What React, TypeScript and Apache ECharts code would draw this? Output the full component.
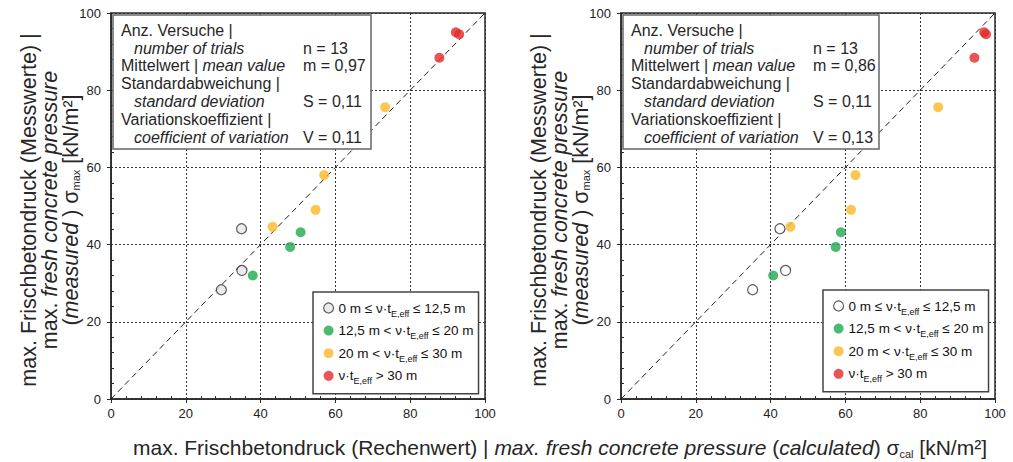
import React, { useEffect, useRef } from 'react';
import * as echarts from 'echarts';

// ---- data ----
// measured max. fresh concrete pressure (same tests in both panels)
const measuredG0 = [28.3, 33.3, 44.1];
const measuredG1 = [32.0, 39.4, 43.2];
const measuredG2 = [44.6, 49.0, 58.0, 75.6];
const measuredG3 = [88.4, 95.0, 94.5];
// calculated values, left panel
const calcLeftG0 = [29.5, 35.0, 34.9];
const calcLeftG1 = [37.9, 47.9, 50.7];
const calcLeftG2 = [43.2, 54.7, 57.0, 73.3];
const calcLeftG3 = [87.8, 92.2, 93.1];
// calculated values, right panel
const calcRightG0 = [35.2, 44.0, 42.5];
const calcRightG1 = [40.7, 57.4, 58.8];
const calcRightG2 = [45.3, 61.5, 62.7, 84.8];
const calcRightG3 = [94.5, 97.1, 97.6];

const legendPre = ['0 m ≤ ν·t', '12,5 m < ν·t', '20 m < ν·t', 'ν·t'];
const legendSub = 'E,eff';
const legendPost = [' ≤ 12,5 m', ' ≤ 20 m', ' ≤ 30 m', ' > 30 m'];

const statLabels = [
  ['Anz. Versuche |', 'number of trials'],
  ['Mittelwert | ', 'mean value'],
  ['Standardabweichung |', 'standard deviation'],
  ['Variationskoeffizient |', 'coefficient of variation'],
];
const statsLeft = ['n = 13', 'm = 0,97', 'S = 0,11', 'V = 0,11'];
const statsRight = ['n = 13', 'm = 0,86', 'S = 0,11', 'V = 0,13'];

const axisTicks = { min: 0, max: 100, interval: 20 };

// ---- styling ----
const FONT = 'Liberation Sans';
const TXT = '#262626';
const groupColors = ['#e6e6e6', '#1fa94c', '#fdb827', '#e42a29'];

const pair = (xs: number[], ys: number[]) => xs.map((x, i) => [x, ys[i]]);

export default function App() {
  const ref = useRef<HTMLDivElement>(null);

  useEffect(() => {
    if (!ref.current) return;
    const chart = echarts.init(ref.current, undefined, { renderer: 'svg' });

    const grids = [
      { left: 111, top: 13, width: 374, height: 386 },
      { left: 621, top: 13, width: 374, height: 386 },
    ];

    const mkMainX = (gi: number) => ({
      type: 'value', gridIndex: gi, position: 'bottom', ...axisTicks,
      axisLine: { show: true, lineStyle: { color: '#2a2a2a', width: 1.5 } },
      axisTick: { show: true, inside: false, length: 4, lineStyle: { color: '#2a2a2a', width: 1 } },
      axisLabel: { show: true, margin: 8, fontFamily: FONT, fontSize: 13, color: '#222' },
      splitLine: { show: true, lineStyle: { color: '#333', width: 1, type: [2, 2] } },
      minorTick: { show: false },
    });
    const mkMinorX = (gi: number) => ({
      type: 'value', gridIndex: gi, position: 'bottom', ...axisTicks,
      axisLine: { show: false }, axisLabel: { show: false },
      axisTick: { show: false, inside: true },
      splitLine: { show: false },
      minorTick: { show: true, splitNumber: 5, length: 3, lineStyle: { color: '#2a2a2a', width: 1 } },
    });
    const mkMainY = (gi: number) => ({
      type: 'value', gridIndex: gi, position: 'left', ...axisTicks,
      axisLine: { show: true, lineStyle: { color: '#2a2a2a', width: 1.5 } },
      axisTick: { show: true, inside: false, length: 4, lineStyle: { color: '#2a2a2a', width: 1 } },
      axisLabel: { show: true, margin: 10, fontFamily: FONT, fontSize: 13, color: '#222' },
      splitLine: { show: true, lineStyle: { color: '#333', width: 1, type: [2, 2] } },
      minorTick: { show: false },
    });
    const mkMinorY = (gi: number) => ({
      type: 'value', gridIndex: gi, position: 'left', ...axisTicks,
      axisLine: { show: false }, axisLabel: { show: false },
      axisTick: { show: false, inside: true },
      splitLine: { show: false },
      minorTick: { show: true, splitNumber: 5, length: 3, lineStyle: { color: '#2a2a2a', width: 1 } },
    });

    const leftData = [
      pair(calcLeftG0, measuredG0), pair(calcLeftG1, measuredG1),
      pair(calcLeftG2, measuredG2), pair(calcLeftG3, measuredG3),
    ];
    const rightData = [
      pair(calcRightG0, measuredG0), pair(calcRightG1, measuredG1),
      pair(calcRightG2, measuredG2), pair(calcRightG3, measuredG3),
    ];

    const styleFor = (g: number, panel: number) => {
      if (g === 0) {
        return { color: panel === 0 ? '#e6e6e6' : '#ffffff', borderColor: '#333', borderWidth: 1.2 };
      }
      return { color: groupColors[g], borderWidth: 0 };
    };

    const series: any[] = [];
    [leftData, rightData].forEach((panelData, p) => {
      series.push({
        type: 'line', xAxisIndex: p * 2, yAxisIndex: p * 2,
        data: [[0, 0], [100, 100]], symbol: 'none', silent: true, z: 2,
        lineStyle: { color: '#222', width: 1, type: [6, 4] },
      });
      panelData.forEach((d, g) => {
        series.push({
          type: 'scatter', name: (p === 0 ? 'L' : 'R') + g,
          xAxisIndex: p * 2, yAxisIndex: p * 2,
          data: d, symbol: 'circle', symbolSize: 10, z: 3,
          itemStyle: styleFor(g, p),
        });
      });
    });

    const legendFormatter = (name: string) => {
      const g = Number(name.slice(1));
      return `{t|${legendPre[g]}}{s|${legendSub}}{t|${legendPost[g]}}`;
    };
    const mkLegend = (p: number, left: number, top: number) => ({
      show: true, orient: 'vertical', left, top,
      data: [0, 1, 2, 3].map((g) => ({
        name: (p === 0 ? 'L' : 'R') + g,
        icon: 'circle',
        itemStyle: styleFor(g, p),
      })),
      selectedMode: false,
      itemWidth: 10, itemHeight: 10, itemGap: 5.6,
      padding: [9, 5, 8, 10],
      backgroundColor: '#fff', borderColor: '#444', borderWidth: 1.5,
      formatter: legendFormatter,
      textStyle: {
        fontFamily: FONT, fontSize: 13.5, color: '#111',
        rich: {
          t: { fontFamily: FONT, fontSize: 13.5, color: '#111', lineHeight: 20 },
          s: { fontFamily: FONT, fontSize: 9, color: '#111', verticalAlign: 'bottom' },
        },
      },
      z: 6,
    });

    const textBox = (ox: number, w: number, stats: string[]) => {
      const els: any[] = [];
      els.push({
        type: 'rect', z: 10, shape: { x: 113 + ox, y: 15, width: w, height: 134 },
        style: { fill: '#fff', stroke: '#666', lineWidth: 1.5 },
      });
      const ys = [30, 48, 65.5, 83, 101, 119, 137];
      const common = { fontFamily: FONT, fontSize: 16, fill: TXT, verticalAlign: 'middle', align: 'left' };
      els.push({ type: 'text', z: 11, x: 121 + ox, y: ys[0], style: { ...common, text: statLabels[0][0] } });
      els.push({ type: 'text', z: 11, x: 134 + ox, y: ys[1], style: { ...common, fontStyle: 'italic', text: statLabels[0][1] } });
      els.push({ type: 'text', z: 11, x: 303 + ox, y: ys[1], style: { ...common, text: stats[0] } });
      els.push({
        type: 'text', z: 11, x: 121 + ox, y: ys[2],
        style: {
          ...common,
          text: `{n|${statLabels[1][0]}}{i|${statLabels[1][1]}}`,
          rich: { n: { fontFamily: FONT, fontSize: 16, fill: TXT }, i: { fontFamily: FONT, fontSize: 16, fontStyle: 'italic', fill: TXT } },
        },
      });
      els.push({ type: 'text', z: 11, x: 303 + ox, y: ys[2], style: { ...common, text: stats[1] } });
      els.push({ type: 'text', z: 11, x: 121 + ox, y: ys[3], style: { ...common, text: statLabels[2][0] } });
      els.push({ type: 'text', z: 11, x: 134 + ox, y: ys[4], style: { ...common, fontStyle: 'italic', text: statLabels[2][1] } });
      els.push({ type: 'text', z: 11, x: 303 + ox, y: ys[4], style: { ...common, text: stats[2] } });
      els.push({ type: 'text', z: 11, x: 121 + ox, y: ys[5], style: { ...common, text: statLabels[3][0] } });
      els.push({ type: 'text', z: 11, x: 134 + ox, y: ys[6], style: { ...common, fontStyle: 'italic', text: statLabels[3][1] } });
      els.push({ type: 'text', z: 11, x: 303 + ox, y: ys[6], style: { ...common, text: stats[3] } });
      return els;
    };

    const yTitleRich = {
      n: { fontFamily: FONT, fontSize: 21.5, fill: TXT, lineHeight: 21 },
      i: { fontFamily: FONT, fontSize: 21.5, fontStyle: 'italic', fill: TXT, lineHeight: 21 },
      s: { fontFamily: FONT, fontSize: 11, fill: TXT, verticalAlign: 'bottom' },
    };
    const yTitleText =
      '{n|max. Frischbetondruck (Messwerte) |}\n' +
      '{n|max. }{i|fresh concrete pressure}\n' +
      '{n|(}{i|measured}{n| ) σ}{s|max}{n| [kN/m²]}';
    const yTitle = (cx: number) => ({
      type: 'text', z: 11, x: cx, y: 210, rotation: Math.PI / 2,
      style: {
        text: yTitleText, rich: yTitleRich, fontFamily: FONT, fontSize: 21.5, fill: TXT,
        align: 'center', verticalAlign: 'middle',
      },
    });

    const xTitle = {
      type: 'text', z: 11, x: 560, y: 447,
      style: {
        text:
          '{n|max. Frischbetondruck (Rechenwert) | }{i|max. fresh concrete pressure}{n| (}{i|calculated}{n|) σ}{s|cal}{n| [kN/m²]}',
        rich: {
          n: { fontFamily: FONT, fontSize: 21, fill: TXT, lineHeight: 24 },
          i: { fontFamily: FONT, fontSize: 21, fontStyle: 'italic', fill: TXT, lineHeight: 24 },
          s: { fontFamily: FONT, fontSize: 11, fill: TXT, verticalAlign: 'bottom' },
        },
        fontFamily: FONT, fontSize: 21, fill: TXT, align: 'center', verticalAlign: 'middle',
      },
    };

    const option: any = {
      animation: false,
      backgroundColor: '#fff',
      grid: grids.map((g) => ({ ...g, show: true, borderColor: '#2a2a2a', borderWidth: 1.5, backgroundColor: 'transparent' })),
      xAxis: [mkMainX(0), mkMinorX(0), mkMainX(1), mkMinorX(1)],
      yAxis: [mkMainY(0), mkMinorY(0), mkMainY(1), mkMinorY(1)],
      legend: [mkLegend(0, 313, 292), mkLegend(1, 823, 290)],
      series,
      graphic: [
        ...textBox(0, 258, statsLeft),
        ...textBox(510, 256, statsRight),
        yTitle(50),
        yTitle(560),
        xTitle,
      ],
    };

    chart.setOption(option);
    return () => chart.dispose();
  }, []);

  return (
    <div
      ref={ref}
      style={{ position: 'fixed', left: 0, top: 0, width: 1013, height: 462, background: '#fff' }}
    />
  );
}
